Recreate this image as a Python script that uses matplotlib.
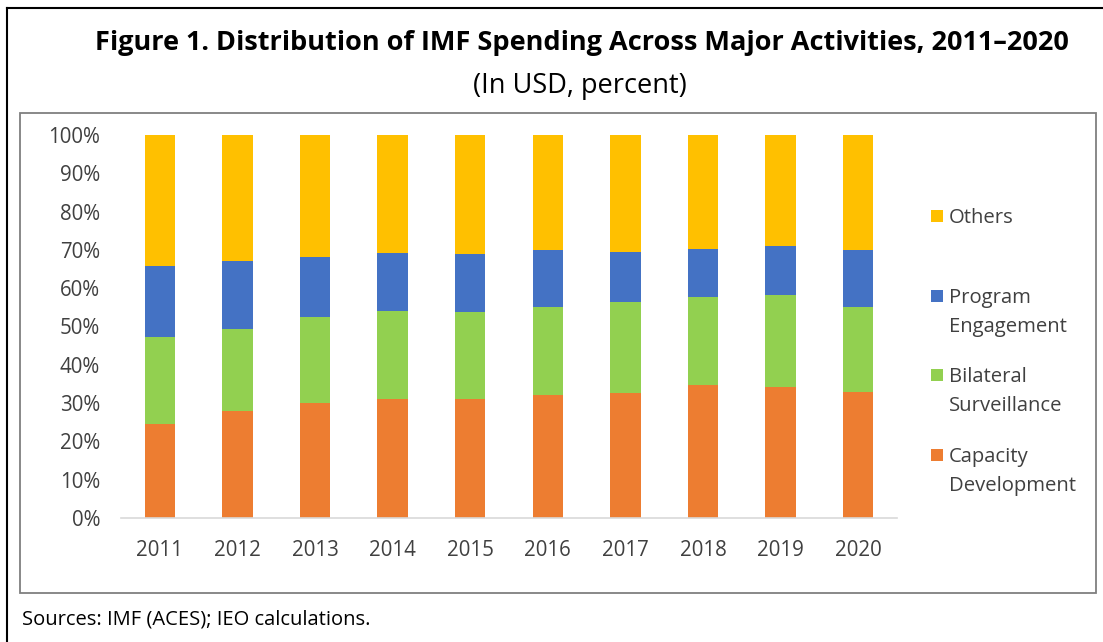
import matplotlib
matplotlib.use("Agg")
import matplotlib.pyplot as plt
from matplotlib.patches import Rectangle
from matplotlib.lines import Line2D
import numpy as np

years = ["2011", "2012", "2013", "2014", "2015", "2016", "2017", "2018", "2019", "2020"]
capacity_development = [24.6, 27.9, 30.0, 31.0, 31.0, 32.0, 32.6, 34.6, 34.3, 33.0]
bilateral_surveillance = [22.7, 21.4, 22.4, 23.0, 22.8, 23.1, 23.8, 23.2, 23.8, 22.1]
program_engagement = [18.5, 17.9, 15.8, 15.2, 15.0, 14.8, 13.1, 12.4, 12.8, 14.8]
others = [34.2, 32.8, 31.8, 30.8, 31.2, 30.1, 30.5, 29.8, 29.1, 30.1]
yticks = [0, 10, 20, 30, 40, 50, 60, 70, 80, 90, 100]
ytick_labels = ["0%", "10%", "20%", "30%", "40%", "50%", "60%", "70%", "80%", "90%", "100%"]

series = [
    ("Capacity\nDevelopment", capacity_development, "#ED7D31"),
    ("Bilateral\nSurveillance", bilateral_surveillance, "#92D050"),
    ("Program\nEngagement", program_engagement, "#4472C4"),
    ("Others", others, "#FFC000"),
]

plt.rcParams['font.family'] = ['Open Sans', 'DejaVu Sans']
W, H = 1103, 642
fig = plt.figure(figsize=(W / 100, H / 100), dpi=100)

def fx(px):
    return px / W

def fy(py):
    return 1 - py / H

ax = fig.add_axes([fx(121), fy(518), fx(897) - fx(121), fy(135) - fy(518)])
x = np.arange(len(years))
bottom = np.zeros(len(years))
for name, vals, color in series:
    vals = np.array(vals)
    ax.bar(x, vals, 0.39, bottom=bottom, color=color, label=name)
    bottom += vals

ax.set_xlim(-0.5, len(years) - 0.5)
ax.set_ylim(0, 100)
ax.set_yticks(yticks)
ax.set_yticklabels(ytick_labels)
ax.set_xticks(x)
ax.set_xticklabels(years)
for s in ["top", "right", "left"]:
    ax.spines[s].set_visible(False)
ax.spines["bottom"].set_color("#D9D9D9")
ax.spines["bottom"].set_linewidth(1.2)
ax.tick_params(axis="both", length=0, labelsize=14.8, labelcolor="#404040")
ax.tick_params(axis="y", pad=15)
ax.tick_params(axis="x", pad=16)

# legend (manual, Excel style)
leg_y = [455, 375, 296, 216]
for (name, vals, color), yy in zip(series, leg_y):
    fig.add_artist(Rectangle((fx(931), fy(yy + 6)), fx(12), fy(yy - 6) - fy(yy + 6),
                             facecolor=color, edgecolor="none", transform=fig.transFigure))
    fig.text(fx(949), fy(yy - 8), name, ha="left", va="top", fontsize=14.6, color="#404040",
             linespacing=1.58, transform=fig.transFigure)

# titles
fig.text(fx(582), fy(43), "Figure 1. Distribution of IMF Spending Across Major Activities, 2011\u20132020",
         ha="center", va="center", fontsize=19.5, fontweight="bold", color="black")
fig.text(fx(580), fy(86), "(In USD, percent)", ha="center", va="center", fontsize=19.5, color="black")
fig.text(fx(22), fy(620), "Sources: IMF (ACES); IEO calculations.", ha="left", va="center",
         fontsize=14.5, color="black")

# frames
fig.add_artist(Rectangle((fx(20), fy(593)), fx(1096) - fx(20), fy(113) - fy(593),
                         facecolor="none", edgecolor="#7F7F7F", linewidth=1.3, transform=fig.transFigure))
fig.add_artist(Line2D([fx(7), 1], [fy(8), fy(8)], color="black", linewidth=1.5, transform=fig.transFigure))
fig.add_artist(Line2D([fx(7), fx(7)], [fy(8), 0], color="black", linewidth=1.5, transform=fig.transFigure))

fig.savefig("out.png", dpi=100)
